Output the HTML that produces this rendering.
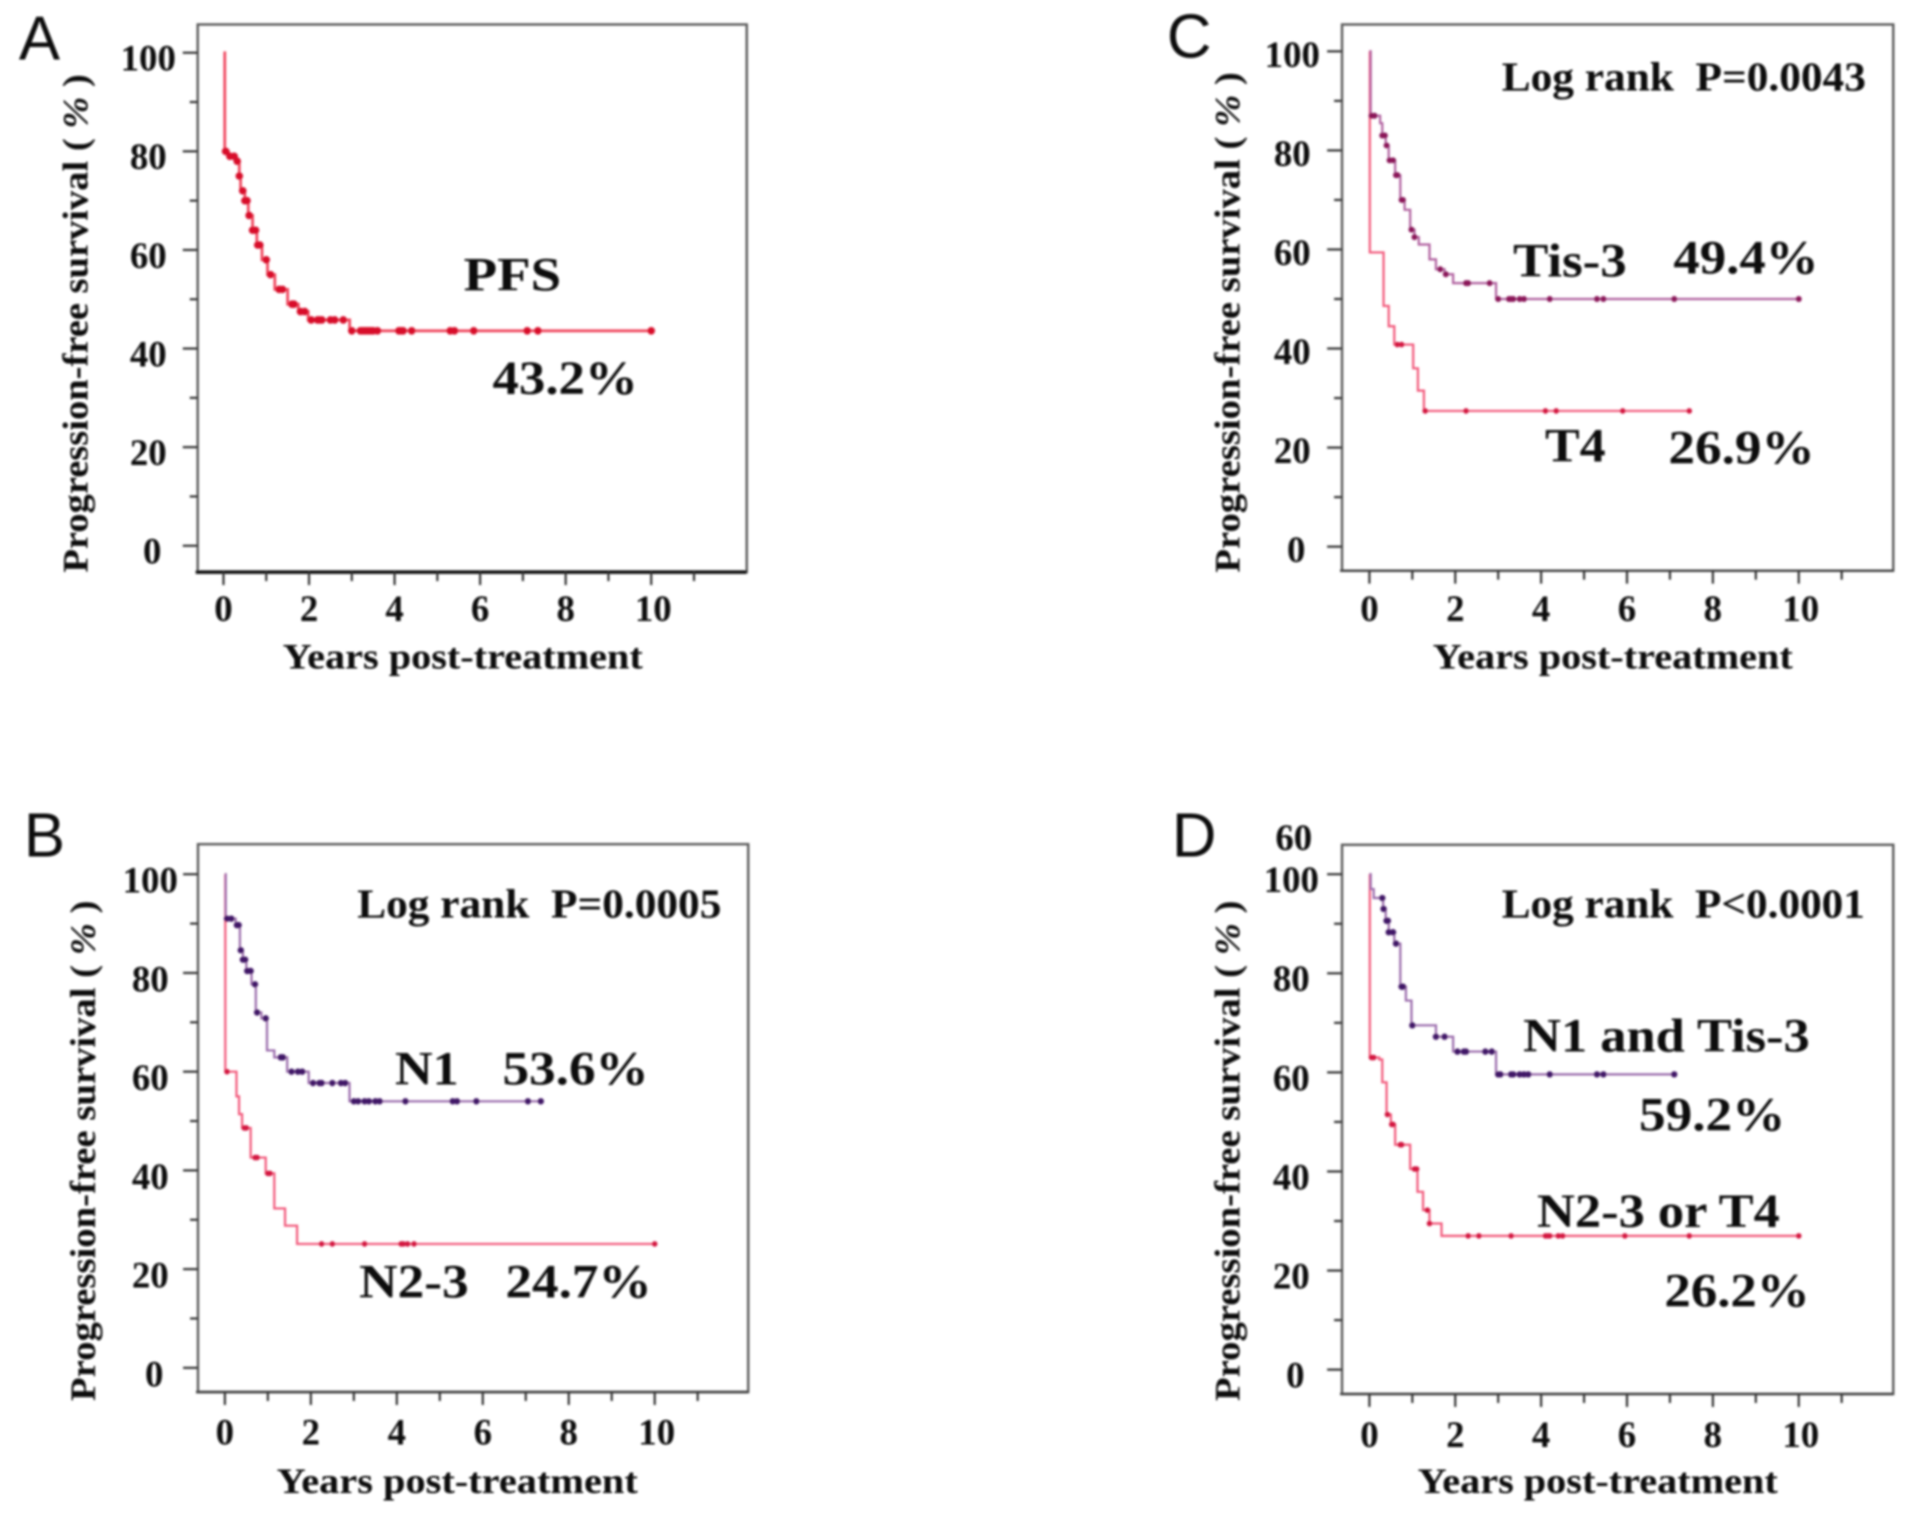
<!DOCTYPE html>
<html lang="en">
<head>
<meta charset="utf-8">
<title>Progression-free survival curves</title>
<style>
html,body{margin:0;padding:0;background:#fff;width:1913px;height:1514px;overflow:hidden}
svg{display:block}
text{font-family:"Liberation Serif",serif;font-weight:700;fill:#0c0c0c;white-space:pre}
.letter{font-family:"Liberation Sans",sans-serif;font-weight:400;font-size:62px}
.tick{font-size:37px}
.axis{font-size:36px}
.note{font-size:48px}
.rank{font-size:41px}
</style>
</head>
<body>
<svg id="figure" xmlns="http://www.w3.org/2000/svg" width="1913" height="1514" viewBox="0 0 1913 1514">
<defs><filter id="soft" x="-2%" y="-2%" width="104%" height="104%"><feGaussianBlur stdDeviation="0.95"/></filter></defs>
<g filter="url(#soft)">
  <g id="panel-a" transform="scale(0.995)">
    <text class="letter" x="19" y="60">A</text>
    <text class="axis" transform="translate(88 575.5) rotate(-90)" textLength="501" lengthAdjust="spacingAndGlyphs">Progression-free survival ( <tspan font-style="italic">%</tspan> )</text>
    <text class="axis" x="284" y="672" textLength="362" lengthAdjust="spacingAndGlyphs">Years post-treatment</text>
    <text class="note" x="466" y="292" textLength="98" lengthAdjust="spacingAndGlyphs">PFS</text>
    <text class="note" x="495" y="396" textLength="146" lengthAdjust="spacingAndGlyphs">43.2%</text>
  </g>
  <g id="panel-b" transform="translate(0 800) scale(0.995) translate(0 -800)">
    <text class="letter" x="24" y="857">B</text>
    <text class="axis" transform="translate(95.5 1404) rotate(-90)" textLength="503" lengthAdjust="spacingAndGlyphs">Progression-free survival ( <tspan font-style="italic">%</tspan> )</text>
    <text class="axis" x="278" y="1496.6" textLength="363" lengthAdjust="spacingAndGlyphs">Years post-treatment</text>
    <text class="rank" x="359" y="918" textLength="366" lengthAdjust="spacingAndGlyphs">Log rank  P=0.0005</text>
    <text class="note" x="397" y="1086" textLength="64" lengthAdjust="spacingAndGlyphs">N1</text>
    <text class="note" x="505" y="1086" textLength="147" lengthAdjust="spacingAndGlyphs">53.6%</text>
    <text class="note" x="361" y="1300" textLength="110" lengthAdjust="spacingAndGlyphs">N2-3</text>
    <text class="note" x="508" y="1300" textLength="147" lengthAdjust="spacingAndGlyphs">24.7%</text>
  </g>
  <g id="panel-c" transform="translate(1150 0) scale(0.995) translate(-1150 0)">
    <text class="letter" x="1167" y="58">C</text>
    <text class="axis" transform="translate(1240 575.5) rotate(-90)" textLength="503" lengthAdjust="spacingAndGlyphs">Progression-free survival ( <tspan font-style="italic">%</tspan> )</text>
    <text class="axis" x="1434" y="672" textLength="362" lengthAdjust="spacingAndGlyphs">Years post-treatment</text>
    <text class="rank" x="1503.5" y="91" textLength="366" lengthAdjust="spacingAndGlyphs">Log rank  P=0.0043</text>
    <text class="note" x="1515" y="278" textLength="114" lengthAdjust="spacingAndGlyphs">Tis-3</text>
    <text class="note" x="1676" y="275" textLength="146" lengthAdjust="spacingAndGlyphs">49.4%</text>
    <text class="note" x="1547" y="464" textLength="61" lengthAdjust="spacingAndGlyphs">T4</text>
    <text class="note" x="1671" y="466" textLength="147" lengthAdjust="spacingAndGlyphs">26.9%</text>
  </g>
  <g id="panel-d" transform="translate(1150 800) scale(0.995) translate(-1150 -800)">
    <text class="letter" x="1172" y="857">D</text>
    <text class="tick" x="1276" y="850">60</text>
    <text class="axis" transform="translate(1240 1404) rotate(-90)" textLength="503" lengthAdjust="spacingAndGlyphs">Progression-free survival ( <tspan font-style="italic">%</tspan> )</text>
    <text class="axis" x="1419" y="1496.6" textLength="362" lengthAdjust="spacingAndGlyphs">Years post-treatment</text>
    <text class="rank" x="1503.5" y="918" textLength="365" lengthAdjust="spacingAndGlyphs">Log rank  P&lt;0.0001</text>
    <text class="note" x="1525" y="1053" textLength="288" lengthAdjust="spacingAndGlyphs">N1 and Tis-3</text>
    <text class="note" x="1641.5" y="1132" textLength="147" lengthAdjust="spacingAndGlyphs">59.2%</text>
    <text class="note" x="1539" y="1229" textLength="244" lengthAdjust="spacingAndGlyphs">N2-3 or T4</text>
    <text class="note" x="1667" y="1309" textLength="146" lengthAdjust="spacingAndGlyphs">26.2%</text>
  </g>
</g>
</svg>
<script>
const yTickValues = [0, 10, 20, 30, 40, 50, 60, 70, 80, 90, 100];
const yTickLabels = [0, 20, 40, 60, 80, 100];
const xTickValues = [0, 1, 2, 3, 4, 5, 6, 7, 8, 9, 10, 11];
const xTickLabels = [0, 2, 4, 6, 8, 10];

const pfsYears = [0, 0.03, 0.12, 0.3, 0.37, 0.4, 0.5, 0.58, 0.68, 0.78, 0.9, 1.03, 1.2, 1.5, 1.75, 1.98, 2.95, 10];
const pfsSurvival = [100, 80, 79, 78, 75, 72, 70, 67, 64, 61, 58, 55, 52, 49, 47.5, 45.8, 43.6, 43.6];
const pfsCensored = [0.05, 0.15, 0.25, 0.32, 0.37, 0.45, 0.5, 0.55, 0.6, 0.68, 0.75, 0.8, 0.85, 1.0, 1.1, 1.3, 1.38, 1.6, 1.65, 1.8, 1.9, 2.05, 2.2, 2.25, 2.3, 2.5, 2.6, 2.8, 3.0, 3.2, 3.25, 3.3, 3.35, 3.4, 3.45, 3.5, 3.6, 4.1, 4.15, 4.2, 4.4, 5.3, 5.4, 5.85, 7.1, 7.35, 10];

const n1Years = [0, 0.02, 0.25, 0.35, 0.42, 0.5, 0.62, 0.72, 0.85, 0.98, 1.15, 1.45, 1.95, 2.9, 7.4];
const n1Survival = [100, 91, 89.7, 84.6, 82.7, 80.4, 77.7, 72, 70.8, 64.3, 62.9, 60, 57.7, 54, 54];
const n1Censored = [0.05, 0.15, 0.28, 0.32, 0.37, 0.42, 0.47, 0.52, 0.6, 0.7, 0.75, 0.95, 1.3, 1.35, 1.55, 1.7, 1.8, 2.05, 2.2, 2.25, 2.5, 2.7, 2.8, 3.0, 3.1, 3.25, 3.35, 3.5, 3.6, 4.2, 5.3, 5.4, 5.85, 7.05, 7.35];
const n23Years = [0, 0.01, 0.27, 0.33, 0.4, 0.6, 0.95, 1.15, 1.4, 1.68, 10];
const n23Survival = [100, 60, 55, 51.4, 48.6, 42.6, 39.4, 32.3, 28.8, 25.1, 25.1];
const n23Censored = [0.05, 0.45, 0.5, 0.7, 0.75, 1.0, 1.05, 2.25, 2.5, 3.25, 4.1, 4.15, 4.25, 4.4, 10];

const tis3Years = [0, 0.03, 0.25, 0.3, 0.38, 0.45, 0.6, 0.72, 0.82, 0.95, 1.05, 1.15, 1.4, 1.55, 1.75, 1.95, 2.95, 10];
const tis3Survival = [100, 87, 85.5, 83, 81, 78, 75, 70, 68, 64, 62.5, 61, 58, 56, 55, 53.2, 50, 50];
const tis3Censored = [0.05, 0.12, 0.3, 0.36, 0.4, 0.47, 0.55, 0.62, 0.65, 0.75, 0.78, 0.98, 1.05, 1.65, 1.78, 2.25, 2.3, 2.8, 3.0, 3.25, 3.3, 3.35, 3.5, 3.6, 4.2, 5.3, 5.45, 7.1, 10];
const t4Years = [0, 0.01, 0.33, 0.45, 0.58, 1.02, 1.13, 1.27, 7.45];
const t4Survival = [100, 59.4, 48.6, 44.5, 40.8, 36, 31.5, 27.4, 27.4];
const t4Censored = [0.65, 0.75, 1.3, 2.25, 4.1, 4.35, 5.9, 7.45];

const n1TisYears = [0, 0.03, 0.1, 0.32, 0.38, 0.45, 0.58, 0.72, 0.85, 0.98, 1.55, 1.95, 2.95, 7.1];
const n1TisSurvival = [100, 97, 95.2, 93, 90.6, 88.3, 86, 77.3, 74.5, 69.5, 67.2, 64.2, 59.6, 59.6];
const n1TisCensored = [0.3, 0.33, 0.4, 0.43, 0.45, 0.55, 0.62, 0.75, 0.78, 1.0, 1.55, 1.75, 2.05, 2.2, 2.25, 2.7, 2.85, 3.0, 3.05, 3.3, 3.35, 3.5, 3.6, 3.7, 4.2, 5.3, 5.45, 7.1];
const n23T4Years = [0, 0.01, 0.23, 0.3, 0.4, 0.5, 0.6, 0.95, 1.12, 1.25, 1.4, 1.68, 10];
const n23T4Survival = [100, 63, 62.6, 58, 51.5, 49.5, 45.4, 40.5, 35.9, 32.2, 29.5, 27, 27];
const n23T4Censored = [0.05, 0.1, 0.42, 0.52, 0.55, 0.72, 0.75, 1.05, 1.1, 1.35, 1.4, 2.3, 2.55, 3.3, 4.1, 4.15, 4.2, 4.4, 4.5, 5.95, 7.45, 10];

const RED = {line: '#f2587a', mark: '#d3173f'};
const PURPLE = {line: '#9a6bab', mark: '#3f1566'};

const panels = [
  {id: 'panel-a', box: [198.7, 24.6, 750.5, 575], x0: 224.6, x10: 654.5, y100: 53, y0: 548.5, labelX: 149, labelDy: 18, digitY: 624, axisColor: '#111', axisWidth: 3.5,
   series: [{name: 'pfs', years: pfsYears, survival: pfsSurvival, censored: pfsCensored, color: {line: '#f04a60', mark: '#d80f2c'}, lineWidth: 2.8, markRadius: 3.8}]},
  {id: 'panel-b', box: [199, 844.4, 752, 1395], x0: 226, x10: 658, y100: 874.6, y0: 1370.7, labelX: 151, labelDy: 18.5, digitY: 1447.6, axisColor: '#444', axisWidth: 2.6,
   series: [{name: 'n2-3', years: n23Years, survival: n23Survival, censored: n23Censored, color: RED, lineWidth: 2.2, markRadius: 2.8},
            {name: 'n1', years: n1Years, survival: n1Survival, censored: n1Censored, color: PURPLE, lineWidth: 2.2, markRadius: 3.2}]},
  {id: 'panel-c', box: [1343, 24.6, 1897, 573.6], x0: 1370.5, x10: 1802, y100: 51.6, y0: 549.4, labelX: 1293, labelDy: 15.5, digitY: 624, axisColor: '#444', axisWidth: 2.6,
   series: [{name: 't4', years: t4Years, survival: t4Survival, censored: t4Censored, color: RED, lineWidth: 2.2, markRadius: 2.8},
            {name: 'tis-3', years: tis3Years, survival: tis3Survival, censored: tis3Censored, color: {line: '#b0609f', mark: '#8a1358'}, lineWidth: 2.2, markRadius: 3}]},
  {id: 'panel-d', box: [1343, 845, 1897, 1397], x0: 1370.5, x10: 1802, y100: 874.6, y0: 1372.5, labelX: 1292, labelDy: 18, digitY: 1450, axisColor: '#444', axisWidth: 2.6,
   series: [{name: 'n2-3-or-t4', years: n23T4Years, survival: n23T4Survival, censored: n23T4Censored, color: RED, lineWidth: 2.2, markRadius: 2.8},
            {name: 'n1-and-tis-3', years: n1TisYears, survival: n1TisSurvival, censored: n1TisCensored, color: PURPLE, lineWidth: 2.2, markRadius: 3.2}]}
];

const NS = 'http://www.w3.org/2000/svg';
function make(tag, attrs, parent) {
  const el = document.createElementNS(NS, tag);
  for (const k in attrs) el.setAttribute(k, attrs[k]);
  parent.appendChild(el);
  return el;
}
function survivalAt(years, survival, t) {
  let s = survival[0];
  for (let i = 0; i < years.length; i++) { if (years[i] <= t) s = survival[i]; }
  return s;
}

panels.forEach(function (p) {
  const root = document.getElementById(p.id);
  const xScale = function (v) { return p.x0 + (p.x10 - p.x0) * v / 10; };
  const yScale = function (v) { return p.y0 + (p.y100 - p.y0) * v / 100; };
  const [bx0, by0, bx1, by1] = p.box;

  const frame = make('rect', {x: bx0, y: by0, width: bx1 - bx0, height: by1 - by0, fill: 'none', stroke: '#5a5a5a', 'stroke-width': 2.4}, root);
  
  

  const xAxis = make('line', {x1: bx0 - 2, x2: bx1, y1: by1, y2: by1, stroke: p.axisColor, 'stroke-width': p.axisWidth}, root);
  
  

  yTickValues.forEach(function (v) {
    const major = v % 20 === 0;
    const t = make('line', {x1: bx0 - (major ? 15 : 8), x2: bx0, y1: yScale(v), y2: yScale(v), stroke: '#333', 'stroke-width': 2.2}, root);
    
    
  });
  yTickLabels.forEach(function (v) {
    const t = make('text', {class: 'tick', x: p.labelX + (v === 0 ? 4 : 0), y: yScale(v) + p.labelDy, 'text-anchor': 'middle'}, root);
    t.textContent = String(v);
    
    
  });
  xTickValues.forEach(function (v) {
    const major = v % 2 === 0;
    const t = make('line', {x1: xScale(v), x2: xScale(v), y1: by1, y2: by1 + (major ? 13 : 9), stroke: '#333', 'stroke-width': 2.2}, root);
    
    
  });
  xTickLabels.forEach(function (v) {
    const t = make('text', {class: 'tick', x: xScale(v) + (v === 10 ? 2 : 0), y: p.digitY, 'text-anchor': 'middle'}, root);
    t.textContent = String(v);
    
    
  });

  p.series.forEach(function (s) {
    let d = 'M' + xScale(s.years[0]) + ' ' + yScale(s.survival[0]);
    for (let i = 1; i < s.years.length; i++) {
      d += 'H' + xScale(s.years[i]) + 'V' + yScale(s.survival[i]);
    }
    const line = make('path', {d: d, fill: 'none', stroke: s.color.line, 'stroke-width': s.lineWidth}, root);
    
    
    s.censored.forEach(function (t) {
      const c = make('circle', {cx: xScale(t), cy: yScale(survivalAt(s.years, s.survival, t)), r: s.markRadius, fill: s.color.mark}, root);
      
      
    });
  });
});
</script>
</body>
</html>
